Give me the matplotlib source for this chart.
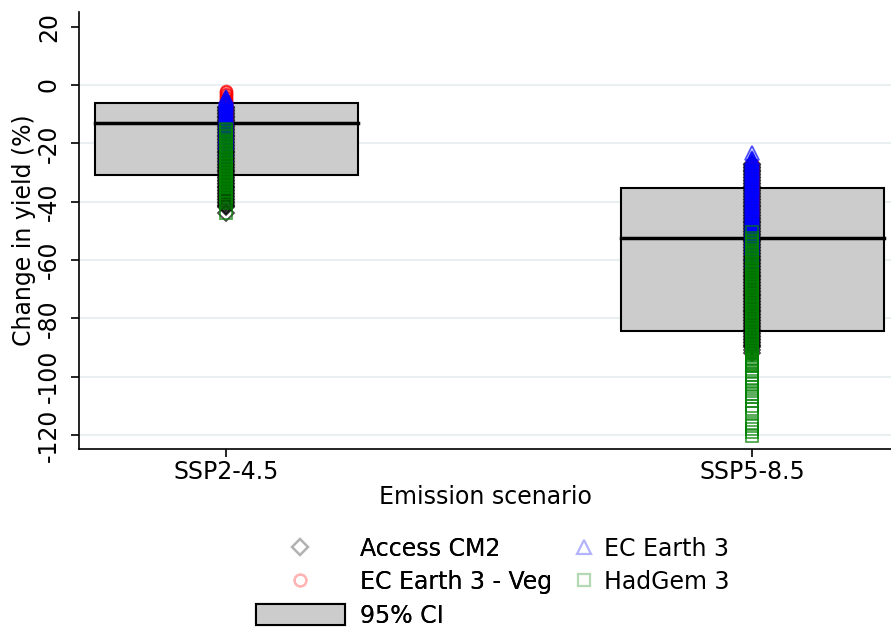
import matplotlib.pyplot as plt
from matplotlib.patches import Rectangle
from matplotlib.lines import Line2D

# scenarios and 95% CI boxes
scenarios = ['SSP2-4.5', 'SSP5-8.5']
ci_low = [-30.9, -84.4]
ci_high = [-6.2, -35.3]
ci_mid = [-13.0, -52.5]

# model results (change in yield, %)
access_ssp245 = [-44.0, -42.0, -41.5, -41.0, -40.5, -40.0, -39.5, -39.0, -38.5, -38.0,
                 -37.5, -37.0, -36.5, -36.0, -35.5, -35.0, -34.5, -34.0, -33.5, -33.0,
                 -32.5, -32.0, -31.5, -31.0, -30.5, -30.0, -29.5, -29.0, -28.5, -28.0,
                 -27.5, -27.0, -26.5, -26.0, -25.5, -25.0, -24.5, -24.0, -23.5, -23.0,
                 -22.5, -22.0, -21.5, -21.0, -20.5, -20.0, -19.5, -19.0, -18.5, -18.0,
                 -17.5, -17.0, -16.5, -16.0, -15.5, -15.0, -14.5, -14.0, -13.5, -13.0,
                 -12.5, -12.0, -11.5, -11.0, -10.5, -10.0, -9.5, -9.0, -8.5, -8.0,
                 -7.5]
veg_ssp245 = [-2.0, -2.5, -3.0, -3.5, -4.0, -4.5, -5.0, -5.5, -6.0, -6.5,
              -7.0, -7.5, -8.0, -8.5, -9.0, -9.5, -10.0, -10.5, -11.0, -11.5,
              -12.0, -12.5, -13.0, -13.5, -14.0, -15.0, -16.0, -17.5, -19.0]
ec3_ssp245 = [-4.0, -4.5, -5.0, -5.5, -6.0, -6.5, -7.0, -7.5, -8.0, -8.5, -9.0, -9.5,
              -10.0, -10.5, -11.0, -11.5, -12.0, -12.5, -13.0, -13.5, -14.0, -14.5,
              -15.0, -15.5, -16.0, -16.5, -17.0, -17.5, -18.0, -18.5, -19.0, -19.5,
              -20.0, -22.0, -24.0]
had_ssp245 = [-15.0, -15.5, -16.0, -16.5, -17.0, -17.5, -18.0, -18.5, -19.0, -19.5,
              -20.0, -20.5, -21.0, -21.5, -22.0, -22.5, -23.0, -23.5, -24.0, -24.5,
              -25.0, -25.5, -26.0, -26.5, -27.0, -27.5, -28.0, -28.5, -29.0, -29.5,
              -30.0, -30.5, -31.0, -31.5, -32.0, -32.5, -33.0, -33.5, -34.0, -34.5,
              -35.0, -35.5, -36.0, -36.5, -37.0, -37.5, -38.0, -38.5, -39.0, -40.5,
              -44.0]

access_ssp585 = [-27.0, -27.5, -28.0, -28.5, -29.0, -29.5, -30.0, -30.5, -31.0, -31.5,
                 -32.0, -32.5, -33.0, -33.5, -34.0, -34.5, -35.0, -35.5, -36.0, -36.5,
                 -37.0, -37.5, -38.0, -38.5, -39.0, -39.5, -40.0, -40.5, -41.0, -41.5,
                 -42.0, -42.5, -43.0, -43.5, -44.0, -44.5, -45.0, -45.5, -46.0, -46.5,
                 -47.0, -47.5, -48.0, -48.5, -49.0, -49.5, -50.0, -50.5, -51.0, -51.5,
                 -52.0, -52.5, -53.0, -53.5, -54.0, -54.5, -55.0, -55.5, -56.0, -56.5,
                 -57.0, -57.5, -58.0, -58.5, -59.0, -59.5, -60.0, -60.5, -61.0, -61.5,
                 -62.0, -62.5, -63.0, -63.5, -64.0, -64.5, -65.0, -65.5, -66.0, -66.5,
                 -67.0, -67.5, -68.0, -68.5, -69.0, -69.5, -70.0, -70.5, -71.0, -71.5,
                 -72.0, -72.5, -73.0, -73.5, -74.0, -74.5, -75.0, -75.5, -76.0, -76.5,
                 -77.0, -77.5, -78.0, -78.5, -79.0, -79.5, -80.0, -80.5, -81.0, -81.5,
                 -82.0, -82.5, -83.0, -83.5, -84.0, -84.5, -85.0, -85.5, -86.0, -86.5,
                 -87.0, -87.5, -88.0, -88.5, -89.0, -89.5, -90.0, -91.0, -92.0]
veg_ssp585 = [-27.0, -27.5, -28.0, -28.5, -29.0, -29.5, -30.0, -30.5, -31.0, -31.5, -32.0,
              -32.5, -33.0, -33.5, -34.0, -34.5, -35.0, -35.5, -36.0, -36.5, -37.0,
              -37.5, -38.0, -38.5, -39.0, -39.5, -40.0, -40.5, -41.0, -41.5, -42.0,
              -42.5, -43.0, -43.5, -44.0, -44.5, -45.0, -47.0, -50.0]
ec3_ssp585 = [-23.5, -25.0, -25.5, -26.0, -26.5, -27.0, -27.5, -28.0, -28.5, -29.0,
              -29.5, -30.0, -30.5, -31.0, -31.5, -32.0, -32.5, -33.0, -33.5, -34.0,
              -34.5, -35.0, -35.5, -36.0, -36.5, -37.0, -37.5, -38.0, -38.5, -39.0,
              -39.5, -40.0, -40.5, -41.0, -41.5, -42.0, -42.5, -43.0, -43.5, -44.0,
              -44.5, -45.0, -45.5, -46.0, -46.5, -47.0, -47.5, -48.0, -48.5, -49.0,
              -49.5, -50.0, -50.5, -51.0, -51.5, -52.0, -52.5, -53.0, -53.5, -54.0,
              -54.5, -55.0, -55.5, -56.0, -58.0, -60.0]
had_ssp585 = [-50.5, -52.5, -53.0, -53.5, -54.0, -54.5, -55.0,
              -55.5, -56.0, -56.5, -57.0, -57.5, -58.0, -58.5, -59.0, -59.5, -60.0,
              -60.5, -61.0, -61.5, -62.0, -62.5, -63.0, -63.5, -64.0, -64.5, -65.0,
              -65.5, -66.0, -66.5, -67.0, -67.5, -68.0, -68.5, -69.0, -69.5, -70.0,
              -70.5, -71.0, -71.5, -72.0, -72.5, -73.0, -73.5, -74.0, -74.5, -75.0,
              -75.5, -76.0, -76.5, -77.0, -77.5, -78.0, -78.5, -79.0, -79.5, -80.0,
              -80.5, -81.0, -81.5, -82.0, -82.5, -83.0, -83.5, -84.0, -84.5, -85.0,
              -85.5, -86.0, -86.5, -87.0, -87.5, -88.0, -88.5, -89.0, -89.5, -90.0,
              -90.5, -91.0, -91.5, -92.0, -92.5, -93.0, -93.5, -94.0, -94.5, -95.0,
              -95.5, -96.0, -96.5, -98.0, -99.5, -100.5, -101.5, -102.5, -103.5, -105.0,
              -106.0, -107.0, -108.5, -110.0, -111.0, -112.5, -116.0, -117.0, -118.0, -119.0,
              -120.5]

# name, colour in plot, light colour for legend, marker, size, data
models = [
    ('Access CM2', 'black', '#b3b3b3', 'D', 8.0, [access_ssp245, access_ssp585]),
    ('EC Earth 3 - Veg', 'red', '#ffb3b3', 'o', 8.5, [veg_ssp245, veg_ssp585]),
    ('EC Earth 3', 'blue', '#b3b3ff', '^', 10.0, [ec3_ssp245, ec3_ssp585]),
    ('HadGem 3', 'green', '#b3d9b3', 's', 8.5, [had_ssp245, had_ssp585]),
]

plt.rcParams['font.family'] = 'DejaVu Sans'
fs = 17

fig = plt.figure(figsize=(8.91, 6.29), dpi=100)
ax = fig.add_axes([79 / 891, 1 - 449 / 629, (891 - 79) / 891, (449 - 12) / 629])

yticks = [20, 0, -20, -40, -60, -80, -100, -120]
for t in yticks[1:]:
    ax.axhline(t, color='#e9f0f2', lw=1.5, zorder=0)

# CI boxes
half = 0.25
for i in range(len(scenarios)):
    x = i + 1
    ax.add_patch(Rectangle((x - half, ci_low[i]), 2 * half, ci_high[i] - ci_low[i],
                           facecolor='#cccccc', edgecolor='black', lw=1.5, zorder=1))
    ax.plot([x - half, x + half], [ci_mid[i], ci_mid[i]], color='black', lw=2.5, zorder=2)

# model points (many overlapping points -> nearly solid colour)
handles = {}
for name, col, light, mk, ms, series in models:
    for i, vals in enumerate(series):
        ax.plot([i + 1] * len(vals), vals, linestyle='none', marker=mk, ms=ms,
                markerfacecolor='none', markeredgecolor=col, markeredgewidth=1.3,
                alpha=0.7, zorder=3)
    handles[name] = Line2D([], [], linestyle='none', marker=mk, ms=ms,
                           markerfacecolor='none', markeredgecolor=light,
                           markeredgewidth=1.6)

ax.set_xlim(0.72, 2.264)
ax.set_ylim(-124.8, 25)
ax.set_xticks([1, 2])
ax.set_xticklabels(scenarios, fontsize=fs)
ax.set_yticks(yticks)
ax.set_yticklabels([str(t) for t in yticks], fontsize=fs, rotation=90, va='center')
ax.tick_params(axis='both', direction='out', length=6, width=1.2, color='black')
ax.tick_params(axis='y', pad=7)
ax.tick_params(axis='x', pad=2)
ax.set_xlabel('Emission scenario', fontsize=fs, labelpad=1)
ax.set_ylabel('Change in yield (%)', fontsize=fs, labelpad=1)
for s in ['top', 'right']:
    ax.spines[s].set_visible(False)
for s in ['left', 'bottom']:
    ax.spines[s].set_linewidth(1.2)

ci_patch = Rectangle((0, 0), 1, 1, facecolor='#cccccc', edgecolor='black', lw=1.5)

leg1 = fig.legend([handles['Access CM2'], handles['EC Earth 3 - Veg'], ci_patch],
                  ['Access CM2', 'EC Earth 3 - Veg', '95% CI'],
                  loc='upper left', bbox_to_anchor=(256 / 891, 1 - 537 / 629),
                  frameon=False, fontsize=fs, handlelength=3.75, handleheight=1.0,
                  handletextpad=0.65, labelspacing=0.4, borderpad=0, borderaxespad=0)
leg2 = fig.legend([handles['EC Earth 3'], handles['HadGem 3']],
                  ['EC Earth 3', 'HadGem 3'],
                  loc='upper left', bbox_to_anchor=(572 / 891, 1 - 537 / 629),
                  frameon=False, fontsize=fs, handlelength=1.0, handleheight=1.0,
                  handletextpad=0.35, labelspacing=0.4, borderpad=0, borderaxespad=0)
fig.add_artist(leg1)

fig.savefig('out.png', dpi=100)
